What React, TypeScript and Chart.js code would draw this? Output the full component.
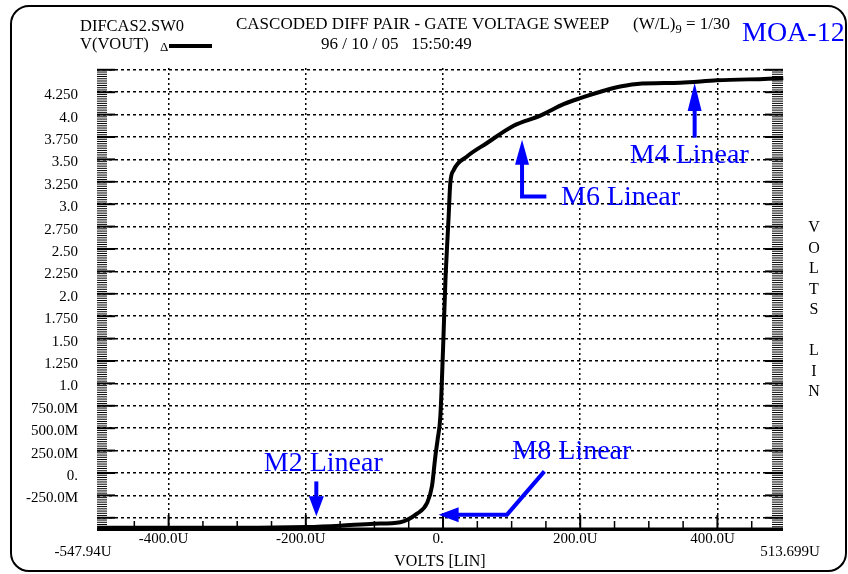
import React, { useEffect, useRef } from "react";
import { Chart, registerables } from "chart.js";

Chart.register(...registerables);

// ---- data ----
const sweepMicroVolts = [-504, -295.5, -199, -149.7, -101, -62.2, -37.9, -23.3, -16, -11.2, -7.9, -3.9, 0, 3.4, 8.2, 10.6, 15.5, 35, 64.1, 102.9, 141.8, 175.8, 200.1, 248.7, 282.8, 345.9, 399.4, 496, 503];
const voutVolts = [-0.61, -0.612, -0.603, -0.588, -0.566, -0.549, -0.454, -0.335, -0.142, 0.185, 0.372, 0.632, 1.376, 2.124, 2.864, 3.237, 3.38, 3.533, 3.683, 3.876, 3.988, 4.116, 4.183, 4.297, 4.342, 4.356, 4.382, 4.406, 4.41];

const xMin = -504.4;
const xMax = 495.6;
const yMin = -0.625;
const yMax = 4.52;

const xTickValues = [-400, -200, 0, 200, 400];
const xTickLabels = ["-400.0U", "-200.0U", "0.", "200.0U", "400.0U"];
const xEndLabels = ["-547.94U", "513.699U"];

const yTickValues = [-0.5, -0.25, 0, 0.25, 0.5, 0.75, 1, 1.25, 1.5, 1.75, 2, 2.25, 2.5, 2.75, 3, 3.25, 3.5, 3.75, 4, 4.25, 4.5];
const yTickLabels = ["", "-250.0M", "0.", "250.0M", "500.0M", "750.0M", "1.0", "1.250", "1.50", "1.750", "2.0", "2.250", "2.50", "2.750", "3.0", "3.250", "3.50", "3.750", "4.0", "4.250", ""];

const annotationLabels = ["M4 Linear", "M6 Linear", "M8 Linear", "M2 Linear"];
const annotationAt = [[359, 3.54], [258.7, 3.075], [187.8, 0.235], [-174.5, 0.105]];
const annotationArrows = [
  [[366.8, 3.742], [366.8, 4.353]],
  [[150.6, 3.087], [115.2, 3.087], [115.2, 3.72]],
  [[147.7, 0.018], [93.3, -0.465], [-6.4, -0.465]],
  [[-184.7, -0.094], [-184.7, -0.484]],
];
const arrowHeadLen = [28, 25, 20, 20];
const arrowHeadHalf = [7, 7, 7.5, 7.5];

const headerLeft = ["DIFCAS2.SW0", "V(VOUT)"];
const headerTitle = "CASCODED DIFF PAIR - GATE VOLTAGE SWEEP";
const headerDate = "96 / 10 / 05   15:50:49";
const headerRatio = ["(W/L)", "9", " = 1/30"];
const headerTag = "MOA-12";
const xAxisTitle = "VOLTS [LIN]";
const yAxisTitle = ["V", "O", "L", "T", "S", "", "L", "I", "N"];

const SERIF = "'Liberation Serif', 'Times New Roman', 'DejaVu Serif', serif";
const BLUE = "#0000ff";

function drawArrow(ctx: CanvasRenderingContext2D, pts: number[][], headLen: number, headHalf: number) {
  const n = pts.length;
  const [tx, ty] = pts[n - 1];
  const [px, py] = pts[n - 2];
  const dx = tx - px, dy = ty - py;
  const len = Math.hypot(dx, dy) || 1;
  const ux = dx / len, uy = dy / len;
  const bx = tx - ux * headLen, by = ty - uy * headLen;
  ctx.beginPath();
  ctx.moveTo(pts[0][0], pts[0][1]);
  for (let i = 1; i < n - 1; i++) ctx.lineTo(pts[i][0], pts[i][1]);
  ctx.lineTo(bx + ux * 2, by + uy * 2);
  ctx.stroke();
  ctx.beginPath();
  ctx.moveTo(tx, ty);
  ctx.lineTo(bx - uy * headHalf, by + ux * headHalf);
  ctx.lineTo(bx + uy * headHalf, by - ux * headHalf);
  ctx.closePath();
  ctx.fill();
}

const paperPlugin = {
  id: "paper",
  beforeDraw(chart: any) {
    const ctx = chart.ctx as CanvasRenderingContext2D;
    ctx.save();
    ctx.fillStyle = "#fff";
    ctx.fillRect(0, 0, chart.width, chart.height);
    ctx.strokeStyle = "#000";
    ctx.lineWidth = 2;
    ctx.beginPath();
    (ctx as any).roundRect(11, 6, 835, 565, 18);
    ctx.stroke();
    ctx.restore();
  },
  beforeDatasetsDraw(chart: any) {
    const ctx = chart.ctx as CanvasRenderingContext2D;
    const { left, right, bottom } = chart.chartArea;
    const ys = chart.scales.y;
    const xs = chart.scales.x;
    ctx.save();
    ctx.fillStyle = "#000";
    for (let k = Math.ceil(yMin / 0.025); k * 0.025 <= yMax + 1e-9; k++) {
      const py = ys.getPixelForValue(k * 0.025);
      const major = k % 10 === 0;
      if (major) {
        ctx.fillRect(left, py - 1, 18, 2);
        ctx.fillRect(right - 18, py - 1, 18, 2);
      } else {
        ctx.fillRect(left, py - 0.5, 10, 1);
        ctx.fillRect(right - 11, py - 0.5, 11, 1);
      }
    }
    ctx.fillRect(left, bottom - 1.5, right - left, 3.5);
    for (let u = -450; u <= 450; u += 50) {
      const px = xs.getPixelForValue(u);
      const major = u % 200 === 0;
      if (major) ctx.fillRect(px - 1, bottom - 14, 2, 14);
      else ctx.fillRect(px - 0.75, bottom - 8, 1.5, 8);
    }
    ctx.restore();
  },
  afterDraw(chart: any) {
    const ctx = chart.ctx as CanvasRenderingContext2D;
    const { left, right, bottom } = chart.chartArea;
    const xs = chart.scales.x;
    const ys = chart.scales.y;
    ctx.save();
    ctx.fillStyle = "#000";
    ctx.textBaseline = "middle";
    ctx.textAlign = "left";
    ctx.font = `16.5px ${SERIF}`;
    ctx.fillText(headerLeft[0], 80, 27);
    ctx.fillText(headerLeft[1], 80, 45);
    ctx.font = `17px ${SERIF}`;
    ctx.fillText(headerTitle, 236, 25);
    ctx.fillText(headerDate, 321, 45);
    let rx = 633;
    ctx.fillText(headerRatio[0], rx, 25);
    rx += ctx.measureText(headerRatio[0]).width;
    ctx.font = `12.5px ${SERIF}`;
    ctx.fillText(headerRatio[1], rx, 30);
    rx += ctx.measureText(headerRatio[1]).width;
    ctx.font = `17px ${SERIF}`;
    ctx.fillText(headerRatio[2], rx, 25);
    ctx.font = `13px ${SERIF}`;
    ctx.fillText("\u0394", 160, 48);
    ctx.fillRect(169, 44, 43, 4);

    ctx.fillStyle = BLUE;
    ctx.font = `28px ${SERIF}`;
    ctx.fillText(headerTag, 742, 34);

    ctx.fillStyle = "#000";
    ctx.font = `15px ${SERIF}`;
    ctx.textAlign = "center";
    ctx.fillText(xEndLabels[0], left - 14, bottom + 23);
    ctx.fillText(xEndLabels[1], right + 7, bottom + 23);
    ctx.font = `16px ${SERIF}`;
    ctx.fillText(xAxisTitle, (left + right) / 2, bottom + 33);
    yAxisTitle.forEach((ch, i) => {
      if (ch) ctx.fillText(ch, 814, 228 + i * 20.5);
    });

    ctx.fillStyle = BLUE;
    ctx.strokeStyle = BLUE;
    ctx.lineWidth = 4;
    ctx.lineJoin = "miter";
    ctx.font = `28px ${SERIF}`;
    annotationLabels.forEach((lab, i) => {
      const [u, v] = annotationAt[i];
      ctx.fillText(lab, xs.getPixelForValue(u), ys.getPixelForValue(v));
      const pts = annotationArrows[i].map(([au, av]) => [xs.getPixelForValue(au), ys.getPixelForValue(av)]);
      drawArrow(ctx, pts, arrowHeadLen[i], arrowHeadHalf[i]);
    });
    ctx.restore();
  },
};

export default function App() {
  const ref = useRef<HTMLCanvasElement>(null);
  useEffect(() => {
    const canvas = ref.current;
    if (!canvas) return;
    const chart = new Chart(canvas, {
      type: "line",
      data: {
        datasets: [
          {
            data: sweepMicroVolts.map((x, i) => ({ x, y: voutVolts[i] })),
            borderColor: "#000",
            borderWidth: 4,
            pointRadius: 0,
            fill: false,
            cubicInterpolationMode: "monotone",
            clip: false as any,
          },
        ],
      },
      options: {
        animation: false,
        responsive: false,
        devicePixelRatio: 1,
        layout: { padding: { top: 68, right: 65, bottom: 0, left: 0 } },
        plugins: { legend: { display: false }, tooltip: { enabled: false }, title: { display: false } },
        scales: {
          x: {
            type: "linear",
            min: xMin,
            max: xMax,
            afterFit: (s: any) => { s.height = 45; },
            afterBuildTicks: (s: any) => { s.ticks = xTickValues.map((value) => ({ value })); },
            ticks: {
              callback: (_v: any, i: number) => xTickLabels[i] ?? "",
              color: "#000",
              font: { size: 15, family: SERIF },
              padding: 1,
              labelOffset: -5,
              maxRotation: 0,
              autoSkip: false,
            },
            grid: { color: "#000", lineWidth: 1.5, drawTicks: false },
            border: { display: false, dash: [2, 3] },
          },
          y: {
            type: "linear",
            min: yMin,
            max: yMax,
            afterFit: (s: any) => { s.width = 97; },
            afterBuildTicks: (s: any) => { s.ticks = yTickValues.map((value) => ({ value })); },
            ticks: {
              callback: (_v: any, i: number) => yTickLabels[i] ?? "",
              color: "#000",
              font: { size: 15, family: SERIF },
              padding: 19,
              labelOffset: 3,
              autoSkip: false,
            },
            grid: { color: "#000", lineWidth: 1.5, drawTicks: false },
            border: { display: false, dash: [3, 3] },
          },
        },
      } as any,
      plugins: [paperPlugin],
    });
    return () => chart.destroy();
  }, []);
  return (
    <div style={{ position: "fixed", left: 0, top: 0, width: 848, height: 574, background: "#fff" }}>
      <canvas ref={ref} width={848} height={574} style={{ display: "block", width: 848, height: 574 }} />
    </div>
  );
}
